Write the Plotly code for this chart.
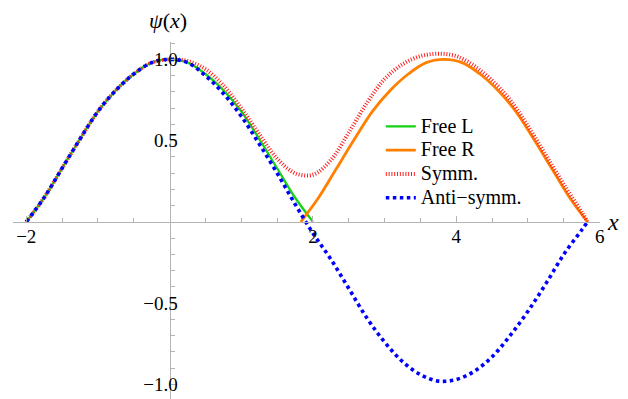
import plotly.graph_objects as go

# ---- data ----
x_left = [-2.0, -1.75, -1.5, -1.25, -1.0, -0.75, -0.5, -0.25, 0.0,
          0.25, 0.5, 0.75, 1.0, 1.25, 1.5, 1.75, 2.0]
free_l = [0.0, 0.15, 0.33, 0.51, 0.68, 0.81, 0.91, 0.98, 1.0,
          0.98, 0.91, 0.81, 0.68, 0.51, 0.33, 0.15, 0.0]

x_right = [1.83, 2.08, 2.33, 2.58, 2.83, 3.08, 3.33, 3.58, 3.83,
           4.08, 4.33, 4.58, 4.83, 5.08, 5.33, 5.58, 5.83]
free_r = [0.0, 0.15, 0.33, 0.51, 0.68, 0.81, 0.91, 0.98, 1.0,
          0.98, 0.91, 0.81, 0.68, 0.51, 0.33, 0.15, 0.0]

x_full = [-2.0, -1.75, -1.5, -1.25, -1.0, -0.75, -0.5, -0.25, 0.0,
          0.25, 0.5, 0.75, 1.0, 1.25, 1.5, 1.75, 2.0, 2.25, 2.5, 2.75,
          3.0, 3.25, 3.5, 3.75, 4.0, 4.25, 4.5, 4.75, 5.0, 5.25, 5.5,
          5.75, 5.83]
symm = [0.0, 0.15, 0.33, 0.51, 0.68, 0.81, 0.91, 0.98, 1.0,
        0.99, 0.94, 0.84, 0.70, 0.54, 0.39, 0.30, 0.29, 0.38, 0.55, 0.73,
        0.88, 0.97, 1.02, 1.035, 1.02, 0.96, 0.87, 0.75, 0.59, 0.41, 0.23,
        0.06, 0.0]
anti = [0.0, 0.15, 0.33, 0.51, 0.68, 0.81, 0.91, 0.98, 1.0,
        0.98, 0.90, 0.79, 0.65, 0.48, 0.30, 0.11, -0.07, -0.23, -0.41, -0.59,
        -0.74, -0.86, -0.94, -0.98, -0.97, -0.92, -0.83, -0.70, -0.55, -0.38, -0.20,
        -0.05, 0.0]

series_names = ["Free L", "Free R", "Symm.", "Anti\u2212symm."]

x_tick_vals = [-2, 2, 4, 6]
x_tick_text = ["\u22122", "2", "4", "6"]
x_minor_vals = [-1.5, -1.0, -0.5, 0.5, 1.0, 1.5, 2.5, 3.0, 3.5, 4.5, 5.0, 5.5]
y_tick_vals = [-1.0, -0.5, 0.5, 1.0]
y_tick_text = ["\u22121.0", "\u22120.5", "0.5", "1.0"]
y_minor_vals = [-0.9, -0.8, -0.7, -0.6, -0.4, -0.3, -0.2, -0.1,
                0.1, 0.2, 0.3, 0.4, 0.6, 0.7, 0.8, 0.9, 1.1]

X_RANGE = [-2.185, 6.005]
Y_RANGE = [-1.09, 1.107]

SERIF = "Liberation Serif"
AXIS_COL = "#b4b4b4"


def legend_label(s):
    return '<span style="font-size:20px">' + s + "</span>"


fig = go.Figure()
fig.add_trace(go.Scatter(x=x_left, y=free_l, mode="lines", name=legend_label(series_names[0]),
                         line=dict(color="rgb(20,210,20)", width=2.3, shape="spline")))
fig.add_trace(go.Scatter(x=x_right, y=free_r, mode="lines", name=legend_label(series_names[1]),
                         line=dict(color="rgb(255,128,0)", width=2.8, shape="spline")))
fig.add_trace(go.Scatter(x=x_full, y=symm, mode="lines", name=legend_label(series_names[2]),
                         line=dict(color="rgb(255,30,30)", width=4, dash="1px,1.8px", shape="spline")))
fig.add_trace(go.Scatter(x=x_full, y=anti, mode="lines", name=legend_label(series_names[3]),
                         line=dict(color="rgb(0,0,255)", width=3.6, dash="3.5px,3.5px", shape="spline")))

x0_frac = (0 - X_RANGE[0]) / (X_RANGE[1] - X_RANGE[0])
y0_frac = (0 - Y_RANGE[0]) / (Y_RANGE[1] - Y_RANGE[0])

# page body has an 8px default margin, so the figure is sized to the visible area
fig.update_layout(
    width=620, height=391,
    margin=dict(l=5, r=28, t=34, b=0, autoexpand=False),
    plot_bgcolor="white", paper_bgcolor="white",
    showlegend=True,
    legend=dict(x=0.6266, y=0.811, xanchor="left", yanchor="top",
                font=dict(family=SERIF, size=16, color="black"),
                bgcolor="rgba(0,0,0,0)", itemwidth=30, tracegroupgap=0),
    xaxis=dict(range=X_RANGE, anchor="free", position=y0_frac, automargin=False,
               showline=True, linecolor=AXIS_COL, linewidth=1,
               showgrid=False, zeroline=False,
               tickmode="array", tickvals=x_tick_vals, ticktext=x_tick_text,
               ticks="inside", ticklen=6, tickwidth=1, tickcolor=AXIS_COL,
               ticklabelstandoff=-3,
               tickfont=dict(family=SERIF, size=19, color="black"),
               minor=dict(tickmode="array", tickvals=x_minor_vals, ticks="inside",
                          ticklen=4, tickwidth=1, tickcolor=AXIS_COL, showgrid=False)),
    yaxis=dict(range=Y_RANGE, anchor="free", position=x0_frac, automargin=False,
               showline=True, linecolor=AXIS_COL, linewidth=1,
               showgrid=False, zeroline=False,
               tickmode="array", tickvals=y_tick_vals, ticktext=y_tick_text,
               ticks="inside", ticklen=6, tickwidth=1, tickcolor=AXIS_COL,
               ticklabelstandoff=-12,
               tickfont=dict(family=SERIF, size=19, color="black"),
               minor=dict(tickmode="array", tickvals=y_minor_vals, ticks="inside",
                          ticklen=4, tickwidth=1, tickcolor=AXIS_COL, showgrid=False)),
    annotations=[
        dict(text="<i>\u03c8</i>(<i>x</i>)", xref="paper", yref="paper",
             x=x0_frac - 0.003, y=1.0616, xanchor="center", yanchor="middle",
             showarrow=False, font=dict(family=SERIF, size=22, color="black")),
        dict(text="<i>x</i>", xref="paper", yref="paper",
             x=1.008, y=y0_frac, xanchor="left", yanchor="bottom", yshift=-15,
             showarrow=False, font=dict(family=SERIF, size=24, color="black")),
    ],
)

fig.write_html("out.html")
